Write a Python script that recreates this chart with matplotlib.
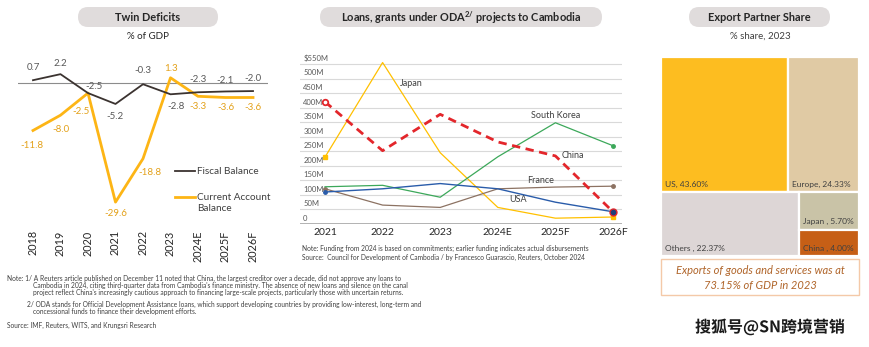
import numpy as np
import matplotlib
matplotlib.use('Agg')
import matplotlib.pyplot as plt
from matplotlib.patches import FancyBboxPatch, Rectangle
import matplotlib.patheffects as pe

plt.rcParams['font.family'] = ['Lato', 'DejaVu Sans']
plt.rcParams['mathtext.fontset'] = 'custom'
plt.rcParams['mathtext.rm'] = 'Lato'
plt.rcParams['mathtext.bf'] = 'Lato:bold'

# twin deficits, % of GDP
years = ['2018', '2019', '2020', '2021', '2022', '2023', '2024E', '2025F', '2026F']
fiscal = [0.7, 2.2, -2.5, -5.2, -0.3, -2.8, -2.3, -2.1, -2.0]
current_account = [-11.8, -8.0, -2.5, -29.6, -18.8, 1.3, -3.3, -3.6, -3.6]

# ODA loans and grants, $M
oda_years = ['2021', '2022', '2023', '2024E', '2025F', '2026F']
japan = [230, 555, 245, 57, 20, 24]
china = [420, 252, 377, 282, 234, 42]
south_korea = [128, 133, 92, 231, 348, 269]
usa = [110, 121, 139, 121, 75, 42]
france = [121, 65, 57, 121, 127, 130]
oda_ticks = [0, 50, 100, 150, 200, 250, 300, 350, 400, 450, 500, 550]

# export partner share 2023
partners = ['US', 'Europe', 'Others ', 'Japan ', 'China ']
shares = [43.60, 24.33, 22.37, 5.70, 4.00]
partner_colors = ['#FDBD20', '#E0CAA4', '#DDD6D6', '#C9C3A7', '#C65F16']

W, H = 870, 347
fig = plt.figure(figsize=(W / 100, H / 100), dpi=100)
fig.patch.set_facecolor('white')


def px_axes(x0, y0, x1, y1):
    return fig.add_axes([x0 / W, 1 - y1 / H, (x1 - x0) / W, (y1 - y0) / H])


# overlay in pixel coords for titles, notes and legend
ov = px_axes(0, 0, W, H)
ov.set_xlim(0, W)
ov.set_ylim(H, 0)
ov.axis('off')


def pill(x0, x1, text):
    ov.add_patch(FancyBboxPatch((x0, 7), x1 - x0, 20, boxstyle='round,pad=0,rounding_size=10',
                                fc='#E0DCDC', ec='none'))
    ov.text((x0 + x1) / 2, 17.5, text, ha='center', va='center', fontsize=7.9,
            fontweight='bold', color='#262626')


pill(78, 218, 'Twin Deficits')
pill(320, 602, r'Loans, grants under ODA$^{\mathbf{2/}}$ projects to Cambodia')
pill(689, 830, 'Export Partner Share')
ov.text(148, 36, '% of GDP', ha='center', va='center', fontsize=7, color='#262626')
ov.text(760, 36, '% share, 2023', ha='center', va='center', fontsize=7, color='#404040')

# ---- twin deficits ----
ax1 = px_axes(18, 60, 268, 215)
x = np.arange(len(years))
fis_col = '#3B3330'
ca_col = '#FDB515'
ax1.axhline(0, color='#8C8C8C', lw=0.8, zorder=1)
ax1.plot(x, fiscal, color=fis_col, lw=1.3, zorder=3)
ax1.plot(x, current_account, color=ca_col, lw=2.0, zorder=2)
ax1.set_xlim(-0.545, len(years) - 1 + 0.545)
ax1.set_ylim(-32.8, 5.72)
ax1.set_xticks(x)
ax1.set_xticklabels(years, rotation=90, fontsize=7.8, color='#262626')
ax1.tick_params(axis='x', length=0, pad=11)
ax1.set_yticks([])
for s in ax1.spines.values():
    s.set_visible(False)
ax1.patch.set_alpha(0)

fis_off = [(0, 9), (0, 8), (4, 5), (0, -9), (0, 10), (4, -9), (0, 9), (0, 8), (0, 9)]
ca_off = [(-1, -11), (0, -10), (-5, -13), (0, -8), (5, -10), (0, 7), (0, -7), (0, -7), (0, -7)]
for i, v in enumerate(fiscal):
    ax1.annotate(f'{v:.1f}', (i, v), xytext=fis_off[i], textcoords='offset points',
                 ha='center', va='center', fontsize=7, color='#595959')
for i, v in enumerate(current_account):
    ax1.annotate(f'{v:.1f}', (i, v), xytext=ca_off[i], textcoords='offset points',
                 ha='center', va='center', fontsize=7, color='#E3A11A')

ov.plot([175, 195], [171, 171], color=fis_col, lw=1.3)
ov.text(197, 171, 'Fiscal Balance', va='center', fontsize=7.2, color='#404040')
ov.plot([175, 195], [197, 197], color=ca_col, lw=2.0)
ov.text(197, 203, 'Current Account\nBalance', va='center', fontsize=7.2, color='#404040',
        linespacing=1.35)

# ---- ODA ----
ax2 = px_axes(300, 60, 622, 224)
xo = np.arange(len(oda_years))
for t in oda_ticks:
    ax2.axhline(t, color='#A6A6A6' if t == 0 else '#D9D9D9', lw=1.2 if t == 0 else 0.8, zorder=0)
    lab = '$550M' if t == oda_ticks[-1] else ('0' if t == 0 else f'{t}M')
    ax2.annotate(lab, (0.01, t), xycoords=('axes fraction', 'data'), xytext=(0, 1.5),
                 textcoords='offset points', ha='left', va='bottom', fontsize=5.5, color='#595959')
ax2.plot(xo, japan, color='#FFC000', lw=0.9, zorder=3)
ax2.plot([xo[0], xo[-1]], [japan[0], japan[-1]], ls='none', marker='s', ms=2.5, color='#FFC000')
ax2.plot(xo, south_korea, color='#3CA85A', lw=0.9, zorder=3)
ax2.plot([xo[-1]], [south_korea[-1]], ls='none', marker='o', ms=2.5, color='#3CA85A')
ax2.plot(xo, france, color='#8C7262', lw=0.9, zorder=3)
ax2.plot([xo[0], xo[-1]], [france[0], france[-1]], ls='none', marker='o', ms=2.5, color='#8C7262')
ax2.plot(xo, china, color='#E3262B', lw=2.0, ls=(0, (3, 2)), zorder=4)
ax2.plot([xo[0]], [china[0]], ls='none', marker='o', ms=4, mfc='white', mec='#E3262B', mew=1.3, zorder=5)
ax2.plot([xo[-1]], [china[-1]], ls='none', marker='o', ms=5, color='#E3262B', zorder=5)
ax2.plot(xo, usa, color='#2A5CAA', lw=1.0, zorder=4)
ax2.plot([xo[0]], [usa[0]], ls='none', marker='o', ms=2.5, color='#2A5CAA', zorder=5)
ax2.plot([xo[-1]], [usa[-1]], ls='none', marker='o', ms=3, color='#1F3F7A', zorder=6)
ax2.set_xlim(-0.434, len(oda_years) - 1 + 0.156)
ax2.set_ylim(0, 563.75)
ax2.set_xticks(xo)
ax2.set_xticklabels(oda_years, fontsize=7.5, color='#262626')
ax2.tick_params(axis='x', length=0, pad=3)
ax2.set_yticks([])
for s in ax2.spines.values():
    s.set_visible(False)
ax2.patch.set_alpha(0)

for name, xi, yi in [('Japan', 1.5, 484), ('South Korea', 4.0, 374), ('China', 4.3, 236),
                     ('France', 3.75, 148), ('USA', 3.35, 83)]:
    ax2.text(xi, yi, name, ha='center', va='center', fontsize=6.5, color='#404040')

ov.text(302, 248.5, 'Note: Funding from 2024 is based on commitments; earlier funding indicates actual disbursements',
        va='center', fontsize=4.8, color='#404040')
ov.text(302, 257, 'Source:  Council for Development of Cambodia / by Francesco Guarascio, Reuters, October 2024',
        va='center', fontsize=4.8, color='#404040')

# ---- treemap ----
tw, th = 198.0, 199.0
ax3 = px_axes(661, 57, 661 + tw, 57 + th)
ax3.set_xlim(0, tw)
ax3.set_ylim(th, 0)
ax3.axis('off')


def worst(row, side):
    s = sum(row)
    return max(max(side * side * v / (s * s), s * s / (side * side * v)) for v in row)


def squarify(vals, x0, y0, w, h):
    total = sum(vals)
    vals = [v * w * h / total for v in vals]
    rects = []
    while vals:
        side = min(w, h)
        row = [vals[0]]
        i = 1
        while i < len(vals) and worst(row + [vals[i]], side) <= worst(row, side):
            row.append(vals[i])
            i += 1
        s = sum(row)
        if w >= h:
            cw = s / h
            yy = y0
            for v in row:
                rects.append((x0, yy, cw, v / cw))
                yy += v / cw
            x0 += cw
            w -= cw
        else:
            rh = s / w
            xx = x0
            for v in row:
                rects.append((xx, y0, v / rh, rh))
                xx += v / rh
            y0 += rh
            h -= rh
        vals = vals[i:]
    return rects


for (rx, ry, rw, rh), name, val, col in zip(squarify(shares, 0, 0, tw, th), partners, shares, partner_colors):
    ax3.add_patch(Rectangle((rx, ry), rw, rh, fc=col, ec='white', lw=1.6))
    ax3.text(rx + 4, ry + rh - 8, f'{name}, {val:.2f}%', ha='left', va='center',
             fontsize=6, color='#404040')

ov.add_patch(Rectangle((661, 259), 198, 36, fc='white', ec='#F4C9A8', lw=1))
ov.text(760, 270, 'Exports of goods and services was at', ha='center', va='center',
        fontsize=8, style='italic', color='#B0652A')
ov.text(760, 285, '73.15% of GDP in 2023', ha='center', va='center',
        fontsize=8, style='italic', color='#B0652A')

# ---- notes ----
nfs = 4.8
ncol = '#404040'
ov.text(7, 278, 'Note: 1/ A Reuters article published on December 11 noted that China, the largest creditor over a decade, did not approve any loans to',
        va='center', fontsize=nfs, color=ncol)
ov.text(33, 285.5, "Cambodia in 2024, citing third-quarter data from Cambodia's finance ministry. The absence of new loans and silence on the canal",
        va='center', fontsize=nfs, color=ncol)
ov.text(33, 292.5, "project reflect China's increasingly cautious approach to financing large-scale projects, particularly those with uncertain returns.",
        va='center', fontsize=nfs, color=ncol)
ov.text(27, 304, '2/ ODA stands for Official Development Assistance loans, which support developing countries by providing low-interest, long-term and',
        va='center', fontsize=nfs, color=ncol)
ov.text(33, 311.5, 'concessional funds to finance their development efforts.',
        va='center', fontsize=nfs, color=ncol)
ov.text(7, 325, 'Source: IMF, Reuters, WITS, and Krungsri Research', va='center', fontsize=nfs, color=ncol)

ov.text(770, 327, '搜狐号@SN跨境营销', ha='center', va='center', fontsize=11.5, fontweight='bold',
        family=['Noto Sans CJK SC', 'DejaVu Sans'], color='#1A1A1A',
        path_effects=[pe.withStroke(linewidth=2, foreground='white')])

fig.savefig('out.png', dpi=100, facecolor='white')
